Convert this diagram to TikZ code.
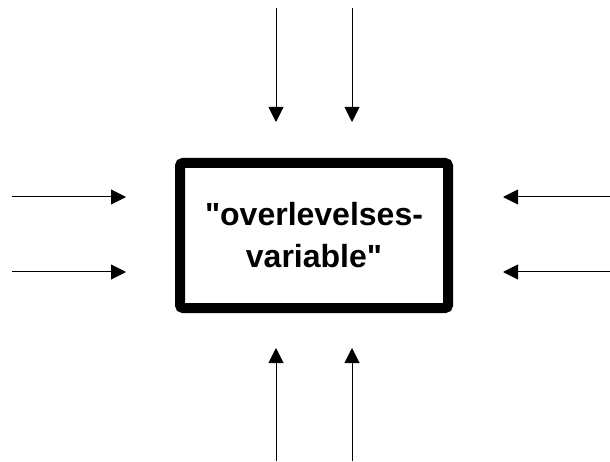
\documentclass[tikz,border=0pt]{standalone}
\usepackage{fontspec}
% plain family without TeX quote ligatures, so " stays straight
\newfontfamily\boxfont{Liberation Sans}
\usetikzlibrary{arrows.meta}
\begin{document}
\begin{tikzpicture}[x=1pt,y=-1pt,
  var/.style={draw=black,line width=10pt,rounded corners=3pt,minimum width=268pt,minimum height=145pt,inner sep=0pt,
    align=center,font=\boxfont\fontsize{32}{42}\selectfont\bfseries},
  flow/.style={line width=1pt,-{Triangle[length=15pt,width=15pt]}}]
\useasboundingbox (0,0) rectangle (610,462);
% central variable box
\node[var] (box) at (314,235.5) {"overlevelses-\\variable"};
% arrow endpoints around the box
\coordinate (t1s) at (276,8);   \coordinate (t1e) at (276,122);
\coordinate (t2s) at (352,8);   \coordinate (t2e) at (352,122);
\coordinate (b1s) at (276,461); \coordinate (b1e) at (276,348);
\coordinate (b2s) at (352,461); \coordinate (b2e) at (352,348);
\coordinate (l1s) at (12,197);  \coordinate (l1e) at (126,197);
\coordinate (l2s) at (12,272);  \coordinate (l2e) at (126,272);
\coordinate (r1s) at (610,197); \coordinate (r1e) at (503,197);
\coordinate (r2s) at (610,272); \coordinate (r2e) at (503,272);
\foreach \a in {t1,t2,b1,b2,l1,l2,r1,r2}
  \draw[flow] (\a s) -- (\a e);
\end{tikzpicture}
\end{document}
